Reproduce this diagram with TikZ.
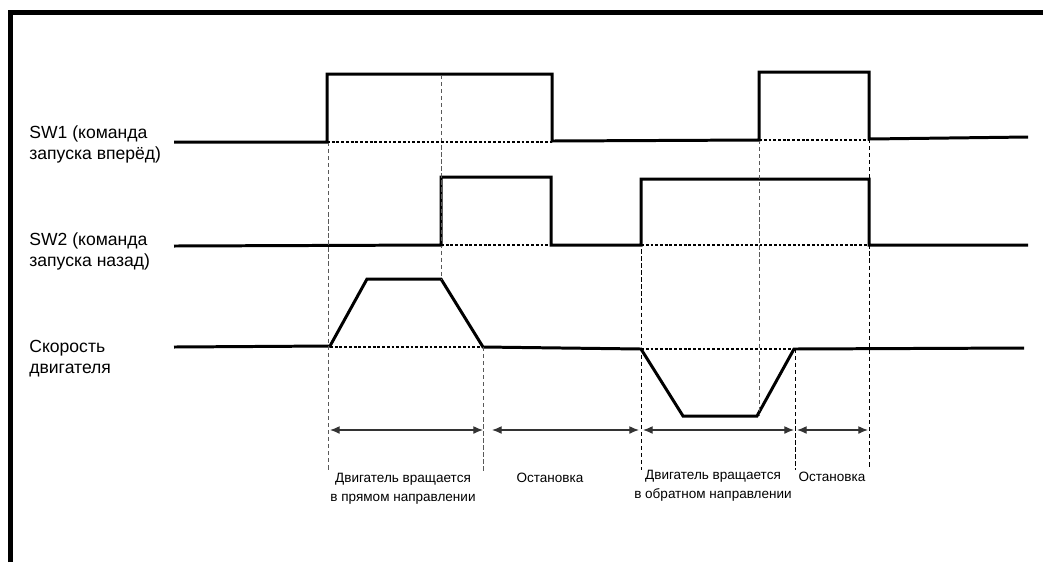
\documentclass[tikz,border=0pt]{standalone}
\usepackage{fontspec}
\setmainfont{Liberation Sans}
\usetikzlibrary{arrows.meta}
\begin{document}
\begin{tikzpicture}[x=0.02cm,y=-0.02cm,
	sig/.style={line width=1.7pt,line join=miter},
	vguide/.style={line width=0.55pt,dash pattern=on 2.4pt off 1.6pt},
	hguide/.style={line width=0.6pt,dash pattern=on 1.6pt off 1.1pt},
	span/.style={line width=0.7pt,black!80,{Latex[length=5.5pt,width=4.5pt]}-{Latex[length=5.5pt,width=4.5pt]}},
	lab/.style={inner sep=0pt,anchor=base west,align=left,font=\fontsize{10}{11.8}\selectfont},
	sublab/.style={inner sep=0pt,anchor=base,align=center,font=\fontsize{7.7}{10.6}\selectfont}]
	\useasboundingbox (0,0) rectangle (1043,562);
	\draw[line width=2.8pt] (10.5,562)--(10.5,12.5)--(1043,12.5);
	\draw[sig] (174,142)--(327,142)--(327,74)--(552,74)--(552,141)--(759,140)--(759,72)--(869,72)--(869,139)--(1028,137);
	\draw[sig] (174,246)--(441,245)--(441,177)--(551,177)--(551,245)--(641,245)--(641,179)--(869,179)--(869,245)--(1028,245);
	\draw[sig] (174,347)--(330,346)--(367,279)--(441,279)--(483,347)--(641,349)--(683,416)--(757,416)--(794,349)--(1024,348);
	\foreach \x/\a/\b in {328/142/470,441/75/279,483/347/472,759/140/416}
	\draw[vguide,black!65] (\x,\a)--(\x,\b);
	\foreach \x/\a/\b in {641/179/470,795/349/470,869/139/467}
	\draw[vguide] (\x,\a)--(\x,\b);
	\draw[hguide] (327,142)--(552,142) (759,140)--(869,140) (441,245)--(551,245) (641,245)--(869,245) (330,347)--(483,347) (641,349)--(795,349);
	\draw[span] (330,430)--(483,430);
	\draw[span] (492,430)--(639,430);
	\draw[span] (643,430)--(794,430);
	\draw[span] (797,430)--(868,430);
	\node[lab] (lbsw1) at (29,159) {SW1 (команда\\запуска вперёд)};
	\node[lab] (lbsw2) at (29,266) {SW2 (команда\\запуска назад)};
	\node[lab] (lbspeed) at (29,373) {Скорость\\двигателя};
	\node[sublab] (lbfwd) at (403,501) {Двигатель вращается\\в прямом направлении};
	\node[sublab] (lbstop1) at (550,482) {Остановка};
	\node[sublab] (lbrev) at (713,498) {Двигатель вращается\\в обратном направлении};
	\node[sublab] (lbstop2) at (832,481) {Остановка};
\end{tikzpicture}
\end{document}
